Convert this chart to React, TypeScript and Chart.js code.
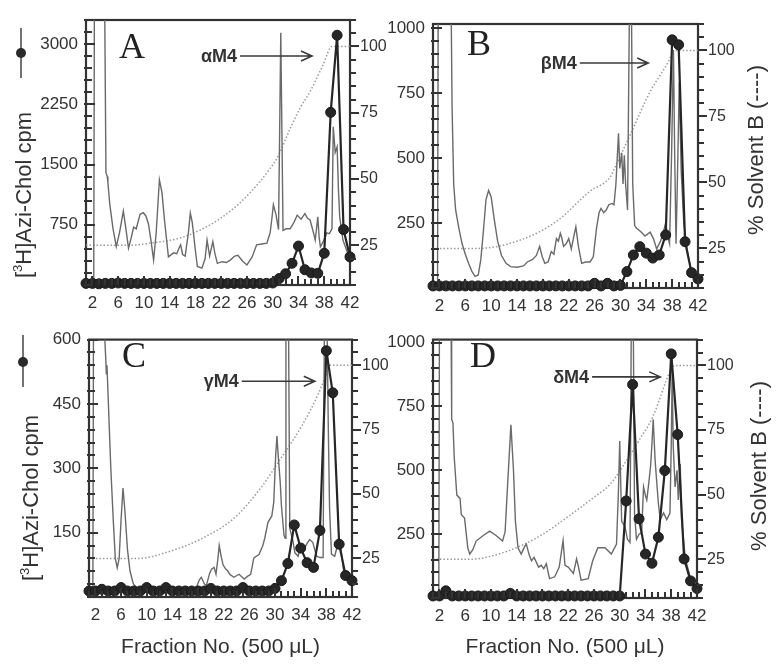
import React, { useEffect, useRef } from 'react';
import { Chart, registerables } from 'chart.js';
Chart.register(...registerables);

// ---------- shared categories / tick labels ----------
const FRACTIONS = [1, 2, 3, 4, 5, 6, 7, 8, 9, 10, 11, 12, 13, 14, 15, 16, 17, 18, 19, 20, 21, 22, 23, 24, 25, 26, 27, 28, 29, 30, 31, 32, 33, 34, 35, 36, 37, 38, 39, 40, 41, 42];
const X_TICKS = [2, 6, 10, 14, 18, 22, 26, 30, 34, 38, 42];
const SOLVENT_TICKS = [25, 50, 75, 100];

// ---------- panel A ----------
const A_CPM_TICKS = [750, 1500, 2250, 3000];
const A_CPM = [20, 20, 15, 20, 20, 25, 20, 20, 20, 20, 20, 20, 20, 20, 20, 20, 20, 20, 20, 20, 20, 20, 20, 20, 20, 20, 20, 20, 20, 25, 80, 140, 270, 485, 190, 150, 145, 395, 2150, 3110, 690, 350];
const A_TRACE_X = [
  1, 2.2, 2.3, 3.9, 4.1, 4.3, 4.4, 4.7, 5.2, 5.7,
  6.2, 6.8, 7.2, 7.6, 8.0, 8.4, 8.8, 9.4, 9.9, 10.3,
  10.7, 11.1, 11.5, 11.9, 12.4, 12.8, 13.2, 13.8, 14.6, 15.1,
  15.5, 15.7, 16.0, 16.4, 16.9, 17.2, 17.5, 17.7, 18.0, 18.3,
  19.0, 19.5, 19.8, 20.2, 20.7, 21.0, 21.4, 22.1, 22.8, 23.4,
  24.1, 24.6, 25.3, 26.0, 26.8, 27.5, 28.3, 29.1, 29.4, 29.6,
  29.9, 30.1, 30.5, 30.9, 31.25, 31.6, 32.1, 32.7, 33.3, 33.8,
  34.4, 35.0, 35.4, 35.8, 36.3, 36.6, 36.8, 37.0, 37.2, 37.4,
  37.9, 38.4, 38.8, 39.2, 39.4, 39.7, 40.0, 40.2, 40.4, 40.9,
  41.4, 42.0];
const A_TRACE_Y = [
  0, 0, 3500, 3500, 1400, 1350, 1280, 1000, 700, 480,
  650, 920, 700, 460, 580, 720, 700, 880, 900, 860,
  760, 550, 310, 650, 1310, 1150, 800, 350, 400, 390,
  470, 500, 380, 360, 650, 895, 780, 640, 420, 230,
  210, 330, 560, 360, 540, 400, 270, 290, 280, 310,
  360, 370, 300, 250, 350, 500, 510, 520, 600, 650,
  850, 1000, 880, 690, 3140, 680, 700, 700, 780, 870,
  820, 890, 830, 810, 660, 560, 700, 850, 600, 475,
  550, 650, 640, 700, 1970, 1650, 1720, 1200, 850, 560,
  450, 310];
const A_GRAD_X = [1, 7.9, 11, 15.6, 18.7, 21.8, 24.9, 28, 29.6, 30.7, 32.7, 34.3, 35.8, 37.8, 39.2, 42];
const A_GRAD_Y = [25, 25, 25.8, 27.7, 30.7, 35, 41, 49, 54, 58, 69, 77, 83, 93, 100, 100];

// ---------- panel B ----------
const B_CPM_TICKS = [250, 500, 750, 1000];
const B_CPM = [8, 8, 8, 8, 8, 8, 8, 8, 8, 8, 8, 8, 8, 8, 8, 8, 8, 8, 8, 8, 8, 8, 8, 8, 8, 18, 8, 18, 8, 10, 63, 127, 159, 134, 115, 127, 204, 954, 935, 178, 59, 35];
const B_TRACE_X = [
  1, 1.7, 1.8, 3.8, 3.95, 4.2, 4.5, 5.0, 5.5, 6.0,
  6.5, 7.0, 7.5, 8.0, 8.4, 8.8, 9.2, 9.6, 10.0, 10.5,
  11.0, 11.6, 12.3, 13.0, 14.0, 15.0, 15.6, 16.4, 17.0, 17.5,
  17.9, 18.3, 18.8, 19.3, 19.7, 20.1, 20.4, 20.7, 20.9, 21.2,
  21.6, 22.0, 22.4, 22.8, 23.1, 23.5, 24.0, 24.6, 25.3, 25.8,
  26.3, 26.7, 27.0, 27.4, 27.8, 28.2, 28.7, 29.0, 29.3, 29.7,
  29.9, 30.2, 30.4, 30.6, 30.8, 31.1, 31.4, 31.7, 31.9, 32.2,
  32.5, 33.2, 33.8, 34.6, 35.1, 35.6, 36.2, 36.7, 37.0, 37.3,
  37.6, 37.9, 38.2, 38.4, 38.6, 38.8, 39.1, 39.4, 39.8, 40.3,
  41.0, 42.0];
const B_TRACE_Y = [
  0, 0, 1100, 1100, 700, 400, 300, 230, 170, 130,
  95, 65, 45, 50, 110, 220, 340, 375, 350, 260,
  180, 125, 95, 82, 80, 85, 100, 110, 125, 160,
  120, 95, 100, 140, 130, 190, 180, 210, 195, 160,
  170, 190, 150, 200, 235, 160, 95, 100, 100, 120,
  230, 290, 306, 290, 300, 320, 325, 320, 400, 595,
  460, 520, 400, 510, 400, 300, 1100, 1100, 400, 240,
  230, 215, 200, 215, 190, 150, 180, 220, 250, 200,
  170, 500, 915, 500, 170, 400, 790, 450, 250, 150,
  60, 30];
const B_GRAD_X = [1, 7.8, 14.9, 20.2, 25.3, 28.4, 29.4, 31.5, 34.6, 37.4, 38.3, 42];
const B_GRAD_Y = [25, 25, 28.5, 35.4, 46.7, 52, 57, 68, 84.4, 95.6, 100, 100];

// ---------- panel C ----------
const C_CPM_TICKS = [150, 300, 450, 600];
const C_CPM = [14, 14, 18, 14, 14, 22, 14, 14, 14, 22, 14, 14, 22, 14, 14, 14, 14, 14, 14, 20, 14, 14, 14, 14, 22, 14, 14, 14, 14, 20, 38, 78, 168, 114, 80, 69, 155, 574, 476, 123, 50, 38];
const C_TRACE_X = [
  1, 1.6, 1.7, 3.3, 3.6, 3.7, 3.8, 4.1, 4.4, 4.8,
  5.1, 5.4, 5.7, 6.0, 6.3, 6.6, 7.0, 7.4, 7.9, 8.7,
  10.0, 12.0, 14.0, 15.0, 16.0, 17.5, 18.2, 18.5, 19.0, 19.3,
  19.8, 20.1, 20.5, 20.8, 21.1, 21.3, 21.6, 21.9, 22.3, 22.6,
  23.0, 23.6, 24.4, 25.2, 25.7, 26.2, 26.7, 27.5, 28.1, 28.4,
  28.9, 29.5, 29.8, 30.1, 30.3, 30.5, 30.8, 31.0, 31.4, 31.6,
  31.7, 32.1, 32.3, 32.8, 33.1, 33.6, 34.0, 34.5, 35.0, 35.4,
  35.9, 36.2, 36.5, 37.0, 37.5, 37.7, 38.1, 38.3, 38.5, 38.8,
  39.3, 39.9, 40.3, 40.7, 41.3, 42.0];
const C_TRACE_Y = [
  0, 0, 650, 650, 560, 520, 540, 420, 300, 174,
  90, 68, 90, 180, 254, 200, 110, 60, 31, 16,
  10, 8, 10, 22, 10, 12, 40, 46, 30, 27,
  55, 65, 69, 53, 90, 120, 95, 75, 65, 61,
  52, 46, 53, 42, 48, 53, 91, 99, 120, 137,
  174, 189, 220, 330, 375, 329, 270, 212, 144, 137,
  650, 650, 160, 130, 103, 95, 120, 111, 125, 134,
  127, 110, 95, 92, 92, 650, 650, 400, 208, 100,
  95, 130, 110, 60, 40, 30];
const C_GRAD_X = [1, 8.7, 13.4, 18.5, 23.7, 27.9, 31, 34.2, 36.8, 37.9, 38.5, 42];
const C_GRAD_Y = [25, 25, 27.6, 32.6, 40.8, 52.8, 64.2, 76.6, 89.2, 96, 100, 100];

// ---------- panel D ----------
const D_CPM_TICKS = [250, 500, 750, 1000];
const D_CPM = [8, 8, 28, 8, 8, 8, 8, 8, 8, 8, 8, 8, 18, 8, 8, 8, 8, 8, 8, 8, 8, 8, 8, 8, 8, 8, 8, 8, 8, 8, 380, 836, 310, 172, 136, 238, 499, 956, 640, 153, 67, 37];
const D_TRACE_X = [
  1, 1.9, 2.0, 3.8, 3.9, 4.1, 4.3, 4.7, 5.2, 5.4,
  5.9, 6.4, 6.7, 7.2, 7.7, 8.8, 9.8, 10.8, 11.8, 12.2,
  12.6, 13.1, 13.5, 13.8, 14.2, 14.7, 15.2, 15.5, 15.9, 16.3,
  16.7, 17.4, 17.8, 18.2, 18.6, 19.1, 19.9, 20.6, 21.2, 21.5,
  22.0, 22.8, 23.3, 23.6, 24.0, 25.1, 25.8, 26.6, 27.7, 28.7,
  29.5, 29.8, 30.0, 30.3, 30.8, 31.2, 31.6, 31.8, 32.1, 32.3,
  32.6, 33.0, 33.4, 33.7, 34.0, 34.2, 34.5, 34.8, 35.0, 35.2,
  35.5, 36.0, 36.3, 36.8, 37.3, 37.8, 38.0, 38.15, 38.3, 38.6,
  38.9, 39.1, 39.4, 39.6, 40.2, 41.0, 42.0];
const D_TRACE_Y = [
  0, 0, 1100, 1100, 700, 685, 550, 403, 390, 326,
  313, 197, 172, 190, 223, 245, 262, 245, 223, 260,
  450, 678, 500, 300, 197, 172, 200, 211, 172, 146,
  159, 121, 128, 115, 134, 76, 83, 121, 225, 128,
  121, 96, 153, 121, 70, 76, 146, 197, 197, 172,
  211, 420, 615, 300, 281, 230, 217, 1100, 1100, 332,
  230, 250, 256, 435, 400, 384, 447, 520, 601, 700,
  536, 370, 307, 333, 307, 333, 600, 900, 600, 435,
  500, 384, 525, 307, 153, 76, 25];
const D_GRAD_X = [1, 6.7, 12.4, 17.6, 22.8, 26, 28.5, 31, 33, 35.2, 37.8, 38.6, 42];
const D_GRAD_Y = [25, 25, 28, 34, 43, 49, 54, 63, 71, 80.5, 97.5, 100, 100];

// ---------- styling ----------
const FONT = '"Liberation Sans", Arial, Helvetica, sans-serif';
const SERIF = '"Liberation Serif", "Times New Roman", serif';
const TEXT = '#333333';
const AXIS = '#333333';

type Panel = {
  key: string;
  letter: string;
  label: string;
  cpm: number[];
  cpmTicks: number[];
  traceX: number[];
  traceY: number[];
  gradX: number[];
  gradY: number[];
  yMax: number;
  yMinor: number;
  arrow: { textEnd: number; tip: number; y: number };
  left: number; top: number; width: number; height: number;
  area: { left: number; right: number; top: number; bottom: number };
  letterPos: { x: number; y: number };
  leftTitle?: { x: number; cy: number; sx: number; sy1: number; sy2: number; sdot: number };
  rightTitle?: { x: number; cy: number };
  xTitle?: { y: number };
};

const PANELS: Panel[] = [
  {
    key: 'A', letter: 'A', label: 'αM4', cpm: A_CPM, cpmTicks: A_CPM_TICKS,
    traceX: A_TRACE_X, traceY: A_TRACE_Y, gradX: A_GRAD_X, gradY: A_GRAD_Y,
    yMax: 3300, yMinor: 150, arrow: { textEnd: 24.6, tip: 36.1, y: 2852 },
    left: 0, top: 0, width: 391, height: 320,
    area: { left: 86, right: 350, top: 20, bottom: 285 },
    letterPos: { x: 119, y: 58 },
    leftTitle: { x: 31, cy: 195, sx: 21, sy1: 28, sy2: 78, sdot: 53 },
  },
  {
    key: 'B', letter: 'B', label: 'βM4', cpm: B_CPM, cpmTicks: B_CPM_TICKS,
    traceX: B_TRACE_X, traceY: B_TRACE_Y, gradX: B_GRAD_X, gradY: B_GRAD_Y,
    yMax: 1015, yMinor: 50, arrow: { textEnd: 23.4, tip: 34.3, y: 865 },
    left: 385, top: 0, width: 397, height: 320,
    area: { left: 48, right: 313, top: 24, bottom: 288 },
    letterPos: { x: 82, y: 55 },
    rightTitle: { x: 378, cy: 150 },
  },
  {
    key: 'C', letter: 'C', label: 'γM4', cpm: C_CPM, cpmTicks: C_CPM_TICKS,
    traceX: C_TRACE_X, traceY: C_TRACE_Y, gradX: C_GRAD_X, gradY: C_GRAD_Y,
    yMax: 600, yMinor: 30, arrow: { textEnd: 24.5, tip: 36.2, y: 503 },
    left: 0, top: 320, width: 391, height: 351,
    area: { left: 89, right: 352, top: 12, bottom: 277 },
    letterPos: { x: 122, y: 47 },
    leftTitle: { x: 38, cy: 178, sx: 23, sy1: 15, sy2: 67, sdot: 42 },
    xTitle: { y: 333 },
  },
  {
    key: 'D', letter: 'D', label: 'δM4', cpm: D_CPM, cpmTicks: D_CPM_TICKS,
    traceX: D_TRACE_X, traceY: D_TRACE_Y, gradX: D_GRAD_X, gradY: D_GRAD_Y,
    yMax: 1012, yMinor: 50, arrow: { textEnd: 25.4, tip: 36.3, y: 866 },
    left: 385, top: 320, width: 397, height: 351,
    area: { left: 48, right: 312, top: 15, bottom: 278 },
    letterPos: { x: 85, y: 47 },
    rightTitle: { x: 381, cy: 146 },
    xTitle: { y: 333 },
  },
];

function drawLeftTitle(ctx: CanvasRenderingContext2D, bx: number, cy: number) {
  const big = `22px ${FONT}`;
  const small = `13px ${FONT}`;
  ctx.save();
  ctx.translate(bx, cy);
  ctx.rotate(-Math.PI / 2);
  ctx.fillStyle = TEXT;
  ctx.textAlign = 'left';
  ctx.textBaseline = 'alphabetic';
  ctx.font = big;
  const w1 = ctx.measureText('[').width;
  const w3 = ctx.measureText('H]Azi-Chol cpm').width;
  ctx.font = small;
  const w2 = ctx.measureText('3').width;
  let x0 = -(w1 + w2 + w3) / 2;
  ctx.font = big;
  ctx.fillText('[', x0, 0);
  x0 += w1;
  ctx.font = small;
  ctx.fillText('3', x0, -9);
  x0 += w2;
  ctx.font = big;
  ctx.fillText('H]Azi-Chol cpm', x0, 0);
  ctx.restore();
}

function makeDecor(p: Panel) {
  return {
    id: 'decor' + p.key,
    afterDraw(chart: any) {
      const { ctx, chartArea: a, scales } = chart;
      const xs = scales.x, ys = scales.y, y2 = scales.y2;
      ctx.save();
      // tick marks (left inward, right outward, bottom inward)
      ctx.strokeStyle = AXIS;
      ctx.lineWidth = 2;
      ctx.beginPath();
      for (let v = 0; v <= p.yMax + 1e-6; v += p.yMinor) {
        const py = Math.round(ys.getPixelForValue(v));
        const len = p.cpmTicks.includes(v) ? 9 : 6;
        ctx.moveTo(a.left - 2, py);
        ctx.lineTo(a.left + len, py);
      }
      for (let v = 10; v <= 110; v += 5) {
        const py = Math.round(y2.getPixelForValue(v));
        const len = SOLVENT_TICKS.includes(v) ? 9 : 6;
        ctx.moveTo(a.right, py);
        ctx.lineTo(a.right + len, py);
      }
      for (const f of FRACTIONS) {
        const px = Math.round(xs.getPixelForValue(f));
        const len = X_TICKS.includes(f) ? 9 : 6;
        ctx.moveTo(px, a.bottom);
        ctx.lineTo(px, a.bottom - len);
      }
      ctx.stroke();
      ctx.restore();
    },
    beforeDatasetsDraw(chart: any) {
      const { ctx, chartArea: a } = chart;
      ctx.save();
      ctx.lineWidth = 2.2;
      ctx.strokeStyle = AXIS;
      ctx.strokeRect(a.left, a.top, a.right - a.left, a.bottom - a.top);
      ctx.restore();
    },
    afterDatasetsDraw(chart: any) {
      const { ctx, chartArea: a, scales } = chart;
      const xs = scales.x, ys = scales.y;
      ctx.save();
      // panel letter
      ctx.fillStyle = '#222';
      ctx.font = `36px ${SERIF}`;
      ctx.textAlign = 'left';
      ctx.textBaseline = 'alphabetic';
      ctx.fillText(p.letter, p.letterPos.x, p.letterPos.y);
      // annotation with arrow
      const tx = xs.getPixelForValue(p.arrow.textEnd);
      const tip = xs.getPixelForValue(p.arrow.tip);
      const ay = ys.getPixelForValue(p.arrow.y);
      ctx.font = `bold 18px ${FONT}`;
      ctx.fillStyle = TEXT;
      ctx.textAlign = 'right';
      ctx.textBaseline = 'middle';
      ctx.fillText(p.label, tx - 1, ay + 1);
      ctx.strokeStyle = '#3a3a3a';
      ctx.lineWidth = 1.6;
      ctx.beginPath();
      ctx.moveTo(tx + 2, ay);
      ctx.lineTo(tip, ay);
      ctx.moveTo(tip - 11, ay - 5);
      ctx.lineTo(tip, ay);
      ctx.lineTo(tip - 11, ay + 5);
      ctx.stroke();
      // left title + legend symbol
      if (p.leftTitle) {
        const t = p.leftTitle;
        ctx.strokeStyle = '#444';
        ctx.lineWidth = 1.5;
        ctx.beginPath();
        ctx.moveTo(t.sx, t.sy1);
        ctx.lineTo(t.sx, t.sy2);
        ctx.stroke();
        ctx.fillStyle = '#2a2a2a';
        ctx.beginPath();
        ctx.arc(t.sx, t.sdot, 5, 0, Math.PI * 2);
        ctx.fill();
        drawLeftTitle(ctx, t.x, t.cy);
      }
      if (p.rightTitle) {
        ctx.save();
        ctx.translate(p.rightTitle.x, p.rightTitle.cy);
        ctx.rotate(-Math.PI / 2);
        ctx.fillStyle = TEXT;
        ctx.font = `22px ${FONT}`;
        ctx.textAlign = 'center';
        ctx.textBaseline = 'alphabetic';
        ctx.fillText('% Solvent B (----)', 0, 0);
        ctx.restore();
      }
      if (p.xTitle) {
        ctx.fillStyle = TEXT;
        ctx.font = `21px ${FONT}`;
        ctx.textAlign = 'center';
        ctx.textBaseline = 'alphabetic';
        ctx.fillText('Fraction No. (500 μL)', (a.left + a.right) / 2, p.xTitle.y);
      }
      ctx.restore();
    },
  };
}

function PanelChart({ p }: { p: Panel }) {
  const ref = useRef<HTMLCanvasElement>(null);
  useEffect(() => {
    const canvas = ref.current;
    if (!canvas) return;
    const tickFont = { family: FONT, size: 17 };
    const chart = new Chart(canvas, {
      type: 'line',
      data: {
        datasets: [
          {
            label: '[3H]Azi-Chol cpm',
            data: FRACTIONS.map((f, i) => ({ x: f, y: p.cpm[i] })),
            yAxisID: 'y',
            borderColor: '#262626',
            backgroundColor: '#262626',
            borderWidth: 2.2,
            pointRadius: 5,
            pointBackgroundColor: '#262626',
            pointBorderColor: '#1a1a1a',
            pointBorderWidth: 1,
            order: 0,
            clip: false,
          },
          {
            label: 'absorbance',
            data: p.traceX.map((x, i) => ({ x, y: p.traceY[i] })),
            yAxisID: 'y',
            borderColor: '#6a6a6a',
            borderWidth: 1.4,
            pointRadius: 0,
            order: 1,
            clip: 0,
          },
          {
            label: '% Solvent B',
            data: p.gradX.map((x, i) => ({ x, y: p.gradY[i] })),
            yAxisID: 'y2',
            borderColor: '#9a9a9a',
            borderWidth: 1.5,
            borderDash: [1.5, 2],
            pointRadius: 0,
            cubicInterpolationMode: 'monotone',
            order: 2,
            clip: 0,
          },
        ],
      } as any,
      options: {
        responsive: false,
        animation: false,
        events: [],
        layout: { padding: { top: p.area.top, left: 0, right: 0, bottom: 0 } },
        plugins: { legend: { display: false }, tooltip: { enabled: false } },
        scales: {
          x: {
            type: 'linear',
            position: 'bottom',
            min: 1,
            max: 42,
            afterBuildTicks: (s: any) => { s.ticks = X_TICKS.map((v) => ({ value: v })); },
            afterFit: (s: any) => { s.height = p.height - p.area.bottom; },
            ticks: { font: tickFont, color: TEXT, padding: 8, maxRotation: 0, autoSkip: false, callback: (v: any) => String(v) },
            grid: { display: false, drawTicks: false },
            border: { display: false },
          },
          y: {
            type: 'linear',
            position: 'left',
            min: 0,
            max: p.yMax,
            afterBuildTicks: (s: any) => { s.ticks = p.cpmTicks.map((v) => ({ value: v })); },
            afterFit: (s: any) => { s.width = p.area.left; },
            ticks: { font: tickFont, color: TEXT, padding: 8, autoSkip: false, callback: (v: any) => String(v) },
            grid: { display: false, drawTicks: false },
            border: { display: false },
          },
          y2: {
            type: 'linear',
            position: 'right',
            min: 10,
            max: 110,
            afterBuildTicks: (s: any) => { s.ticks = SOLVENT_TICKS.map((v) => ({ value: v })); },
            afterFit: (s: any) => { s.width = p.width - p.area.right; },
            ticks: { font: { family: FONT, size: 16 }, color: TEXT, padding: 10, autoSkip: false, callback: (v: any) => String(v) },
            grid: { display: false, drawTicks: false },
            border: { display: false },
          },
        },
      } as any,
      plugins: [makeDecor(p)],
    });
    return () => chart.destroy();
  }, [p]);
  return (
    <canvas
      ref={ref}
      width={p.width}
      height={p.height}
      style={{ position: 'absolute', left: p.left, top: p.top, width: p.width, height: p.height }}
    />
  );
}

export default function App() {
  return (
    <div style={{ position: 'fixed', left: 0, top: 0, width: 782, height: 671, background: '#ffffff', overflow: 'hidden' }}>
      {PANELS.map((p) => (
        <PanelChart key={p.key} p={p} />
      ))}
    </div>
  );
}
